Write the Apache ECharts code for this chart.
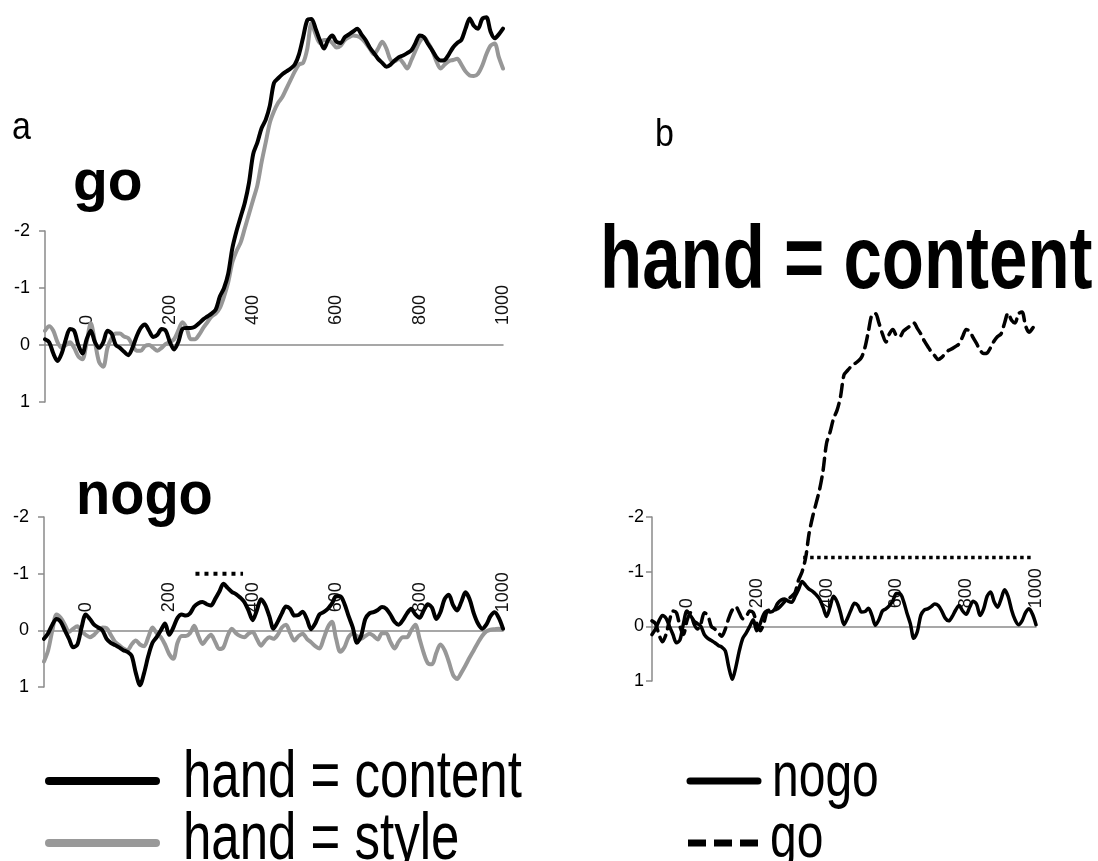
<!DOCTYPE html>
<html>
<head>
<meta charset="utf-8">
<script src="https://cdn.jsdelivr.net/npm/echarts@6/dist/echarts.min.js"></script>
<style>
html,body{margin:0;padding:0;background:#fff;}
#chart{width:1098px;height:861px;}
</style>
</head>
<body>
<div id="chart"></div>
<script>
// ---- data ----
const timeMs = [-100,-90,-80,-70,-60,-50,-40,-30,-20,-10,0,10,20,30,40,50,60,70,80,90,
  100,110,120,130,140,150,160,170,180,190,200,210,220,230,240,250,260,270,280,290,
  300,310,320,330,340,350,360,370,380,390,400,410,420,430,440,450,460,470,480,490,
  500,510,520,530,540,550,560,570,580,590,600,610,620,630,640,650,660,670,680,690,
  700,710,720,730,740,750,760,770,780,790,800,810,820,830,840,850,860,870,880,890,
  900,910,920,930,940,950,960,970,980,990,1000];

// go trials, hand = content
const goContent = [-0.1,-0.05,0.15,0.28,0.15,-0.1,-0.28,-0.25,0.0,0.15,
  -0.1,-0.25,-0.05,0.05,-0.05,-0.25,-0.2,0.0,0.05,0.12,
  0.18,0.05,-0.15,-0.3,-0.36,-0.25,-0.14,-0.18,-0.28,-0.25,
  -0.05,0.08,-0.05,-0.28,-0.3,-0.3,-0.32,-0.38,-0.45,-0.5,
  -0.55,-0.62,-0.85,-1.0,-1.25,-1.7,-2.0,-2.25,-2.5,-2.85,
  -3.35,-3.55,-3.8,-3.95,-4.2,-4.6,-4.68,-4.75,-4.8,-4.85,
  -4.92,-5.1,-5.4,-5.7,-5.72,-5.55,-5.35,-5.2,-5.35,-5.43,
  -5.32,-5.3,-5.4,-5.45,-5.5,-5.55,-5.45,-5.35,-5.22,-5.12,
  -5.02,-4.95,-4.88,-4.92,-4.99,-5.05,-5.08,-5.12,-5.17,-5.3,
  -5.43,-5.4,-5.28,-5.17,-5.05,-4.99,-5.0,-5.1,-5.22,-5.3,
  -5.35,-5.55,-5.73,-5.6,-5.55,-5.72,-5.75,-5.5,-5.38,-5.45,-5.55];

// go trials, hand = style
const goStyle = [-0.25,-0.33,-0.25,-0.05,0.05,0.0,-0.05,0.05,0.2,0.25,
  -0.05,-0.38,-0.05,0.3,0.38,0.05,-0.12,-0.2,-0.2,-0.15,
  -0.12,0.0,0.1,0.1,0.02,0.0,0.05,0.1,0.05,-0.02,
  -0.05,-0.1,-0.25,-0.4,-0.3,-0.1,-0.1,-0.18,-0.3,-0.4,
  -0.5,-0.55,-0.65,-0.85,-1.1,-1.45,-1.65,-1.8,-2.05,-2.3,
  -2.55,-2.8,-3.2,-3.55,-3.9,-4.1,-4.25,-4.35,-4.5,-4.65,
  -4.8,-4.92,-4.95,-5.2,-5.65,-5.45,-5.3,-5.35,-5.35,-5.3,
  -5.22,-5.25,-5.35,-5.4,-5.43,-5.42,-5.38,-5.3,-5.2,-5.1,
  -5.2,-5.32,-5.2,-5.0,-4.98,-5.02,-4.95,-4.85,-5.0,-5.17,
  -5.32,-5.4,-5.3,-5.17,-4.98,-4.85,-4.92,-4.98,-5.0,-5.02,
  -4.92,-4.8,-4.73,-4.72,-4.76,-4.9,-5.1,-5.25,-5.29,-5.05,-4.85];

// nogo trials, hand = content
const nogoContent = [0.15,0.05,-0.1,-0.2,-0.15,0.0,0.15,0.3,0.25,-0.05,
  -0.28,-0.2,-0.1,-0.05,0.0,0.15,0.22,0.26,0.3,0.35,
  0.38,0.45,0.75,0.97,0.75,0.45,0.22,0.12,0.0,-0.12,
  0.08,-0.05,-0.22,-0.28,-0.26,-0.3,-0.42,-0.48,-0.5,-0.46,
  -0.44,-0.55,-0.68,-0.82,-0.75,-0.68,-0.64,-0.58,-0.5,-0.35,
  -0.18,-0.35,-0.55,-0.45,-0.25,-0.03,-0.15,-0.3,-0.42,-0.38,
  -0.26,-0.27,-0.33,-0.2,-0.02,-0.12,-0.28,-0.32,-0.38,-0.47,
  -0.6,-0.6,-0.47,-0.25,-0.05,0.22,0.1,-0.2,-0.3,-0.32,
  -0.36,-0.41,-0.38,-0.28,-0.15,-0.1,-0.18,-0.3,-0.38,-0.28,
  -0.22,-0.35,-0.46,-0.4,-0.2,-0.32,-0.55,-0.63,-0.45,-0.35,
  -0.5,-0.67,-0.55,-0.3,-0.12,-0.03,-0.1,-0.25,-0.32,-0.22,-0.03];

// nogo trials, hand = style
const nogoStyle = [0.55,0.35,0.0,-0.28,-0.22,-0.1,0.03,-0.03,-0.07,0.02,
  0.08,0.12,0.08,0.0,-0.05,-0.04,0.08,0.2,0.26,0.32,
  0.35,0.25,0.18,0.25,0.28,0.12,-0.05,0.05,0.12,0.25,
  0.42,0.5,0.22,0.1,0.1,0.05,-0.08,0.1,0.24,0.15,
  0.08,0.2,0.33,0.3,0.1,-0.03,0.05,0.1,0.12,0.06,
  0.03,0.15,0.27,0.18,0.12,0.15,0.08,-0.05,-0.1,0.05,
  0.18,0.1,0.06,0.15,0.21,0.28,0.32,0.15,-0.05,-0.15,
  0.15,0.38,0.3,0.12,0.06,0.1,0.15,0.1,0.06,0.1,
  0.16,0.05,0.05,0.2,0.32,0.2,0.12,0.12,0.0,-0.1,
  0.15,0.4,0.58,0.6,0.4,0.25,0.35,0.55,0.78,0.86,
  0.75,0.62,0.48,0.35,0.22,0.1,0.02,-0.01,-0.02,-0.03,-0.02];

// significance windows (dotted bars): [start ms, end ms], level
const nogoSigWindow = [263, 377];
const nogoSigLevel = -1.0;
const goVsNogoSigWindow = [333, 985];
const goVsNogoSigLevel = -1.26;

const yTicks = [-2, -1, 0, 1];
const xLabelTicks = [0, 200, 400, 600, 800, 1000];

// ---- chart ----
const FONT = '"Liberation Sans", Arial, sans-serif';
const pairs = (vals) => timeMs.map((t, i) => [t, vals[i]]);

// grid geometry (the x axis line sits on y = 0; labels are drawn just above it)
const grids = [
  {left: 45, right: 595, top: 231, height: 171},
  {left: 44, right: 595, top: 517, height: 170},
  {left: 652, right: 62, top: 517, height: 164}
];
const labelGap = [20, 18, 18];

function xAxisFor(i) {
  const g = grids[i];
  const zeroFromBottom = g.height * (yTicks[yTicks.length - 1] - 0) / (yTicks[yTicks.length - 1] - yTicks[0]);
  return {
    gridIndex: i, type: 'value', position: 'bottom', min: -100, max: 1000, interval: 100,
    axisLine: {onZero: true, lineStyle: {color: '#8a8a8a', width: 1.5}},
    axisTick: {show: false}, splitLine: {show: false},
    axisLabel: {
      inside: true, rotate: 90, margin: zeroFromBottom + labelGap[i],
      color: '#111', fontSize: 18, fontFamily: FONT,
      showMinLabel: true, showMaxLabel: true,
      formatter: v => xLabelTicks.indexOf(v) >= 0 ? String(v) : ''
    }
  };
}
function yAxisFor(i, margin) {
  return {
    gridIndex: i, type: 'value', inverse: true,
    min: yTicks[0], max: yTicks[yTicks.length - 1], interval: 1,
    axisLine: {show: true, onZero: false, lineStyle: {color: '#8a8a8a', width: 1.5}},
    axisTick: {show: true, length: 6, lineStyle: {color: '#8a8a8a', width: 1.5}},
    splitLine: {show: false},
    axisLabel: {margin, color: '#000', fontSize: 18, fontFamily: FONT}
  };
}
function lineSeries(name, gi, vals, color, width, type) {
  return {
    name, type: 'line', xAxisIndex: gi, yAxisIndex: gi, data: pairs(vals),
    symbol: 'none', smooth: 0.3, clip: false, z: 3,
    lineStyle: {color, width, type: type || 'solid', cap: 'round', join: 'round'}
  };
}
function sigSeries(name, gi, win, level, dash, width) {
  return {
    name, type: 'line', xAxisIndex: gi, yAxisIndex: gi,
    data: [[win[0], level], [win[1], level]], symbol: 'none', clip: false, z: 4,
    lineStyle: {color: '#000', width, type: dash, cap: 'butt'}
  };
}
function txt(text, x, y, size, weight, sy) {
  return {
    type: 'text', x, y, scaleY: sy || 1, z: 10,
    style: {text, font: `${weight} ${size}px ${FONT}`, fill: '#000',
            align: 'left', verticalAlign: 'middle'}
  };
}
function seg(x1, x2, y, color, width, dash) {
  return {
    type: 'line', z: 10, shape: {x1, y1: y, x2, y2: y},
    style: {stroke: color, lineWidth: width, lineCap: dash ? 'butt' : 'round', lineDash: dash || null}
  };
}

const BLACK = '#000000', GREY = '#979797';

const option = {
  animation: false,
  backgroundColor: '#ffffff',
  grid: grids,
  xAxis: [xAxisFor(0), xAxisFor(1), xAxisFor(2)],
  yAxis: [yAxisFor(0, 15), yAxisFor(1, 15), yAxisFor(2, 8)],
  series: [
    lineSeries('go, hand = style', 0, goStyle, GREY, 4),
    lineSeries('go, hand = content', 0, goContent, BLACK, 4),
    lineSeries('nogo, hand = style', 1, nogoStyle, GREY, 4),
    lineSeries('nogo, hand = content', 1, nogoContent, BLACK, 4),
    sigSeries('nogo content vs style', 1, nogoSigWindow, nogoSigLevel, [4, 5], 4),
    lineSeries('nogo', 2, nogoContent, BLACK, 3.5),
    lineSeries('go', 2, goContent, BLACK, 3.5, [12, 7]),
    sigSeries('go vs nogo', 2, goVsNogoSigWindow, goVsNogoSigLevel, [3.5, 3.5], 3.5)
  ],
  graphic: [
    txt('a', 12, 128, 34, 'normal', 1.15),
    txt('go', 73, 184, 57, 'bold', 1),
    txt('nogo', 76, 497, 56, 'bold', 1.1),
    txt('b', 655, 135, 34, 'normal', 1.15),
    txt('hand = content', 600, 264, 69, 'bold', 1.28),
    seg(49, 156, 781, BLACK, 8),
    txt('hand = content', 183, 779, 51, 'normal', 1.3),
    seg(49, 156, 843, '#999999', 8),
    txt('hand = style', 183, 841, 51, 'normal', 1.3),
    seg(690, 758, 781, BLACK, 7),
    txt('nogo', 772, 779, 48, 'normal', 1.3),
    seg(688, 758, 843, BLACK, 7, [18, 8]),
    txt('go', 770, 840, 48, 'normal', 1.3)
  ]
};

const chart = echarts.init(document.getElementById('chart'), null, {renderer: 'canvas'});
chart.setOption(option);
</script>
</body>
</html>
